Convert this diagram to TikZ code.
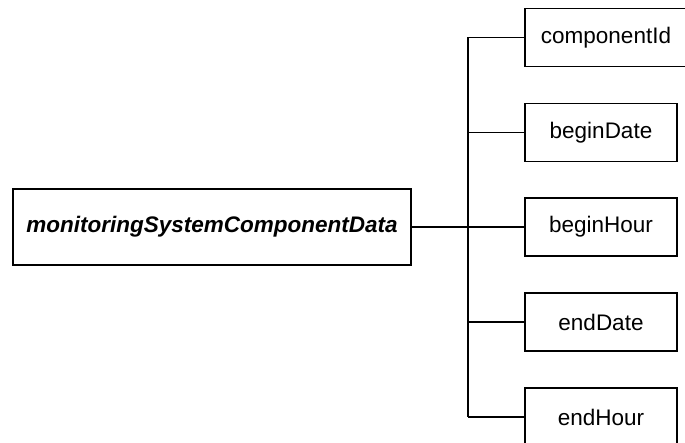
\documentclass[tikz,border=0pt]{standalone}
\usepackage{fontspec}
\setmainfont{Liberation Sans}
\usepackage{tikz}

\begin{document}
\begin{tikzpicture}[x=1pt, y=-1pt,  % one unit per pixel, y downwards
    fieldbox/.style={draw, line width=1.6pt, minimum width=152pt, minimum height=58pt,
        inner sep=0pt, font=\fontsize{22.5}{27}\selectfont},
    rootbox/.style={fieldbox, minimum width=398pt, minimum height=76pt,
        font=\fontsize{22.5}{27}\selectfont\bfseries\itshape},
    tree/.style={line width=1.6pt}]

    % Fix the page to the size of the reference and cut what lies outside it
    \useasboundingbox (0,0) rectangle (685,443);
    \clip (0,0) rectangle (685,443);

    % The record on the left
    \node[rootbox] (root) at (212,227) {monitoringSystemComponentData};

    % Its fields on the right
    \node[fieldbox, minimum width=162pt] (cid) at (606,37.5) {componentId};
    \node[fieldbox] (bdate) at (601,132.5) {beginDate};
    \node[fieldbox] (bhour) at (601,227) {beginHour};
    \node[fieldbox] (edate) at (601,322) {endDate};
    \node[fieldbox] (ehour) at (601,417) {endHour};

    % Vertical trunk of the tree
    \coordinate (trunk) at (468,227);
    \draw[tree] (root.east) -- (trunk);
    \draw[tree] (trunk |- cid.west) -- (trunk |- ehour.west);

    % Branches from the trunk to each field
    \draw[tree] (trunk |- cid.west) -- (cid.west);
    \draw[tree] (trunk |- bdate.west) -- (bdate.west);
    \draw[tree] (trunk) -- (bhour.west);
    \draw[tree] (trunk |- edate.west) -- (edate.west);
    \draw[tree] (trunk |- ehour.west) -- (ehour.west);

\end{tikzpicture}
\end{document}
